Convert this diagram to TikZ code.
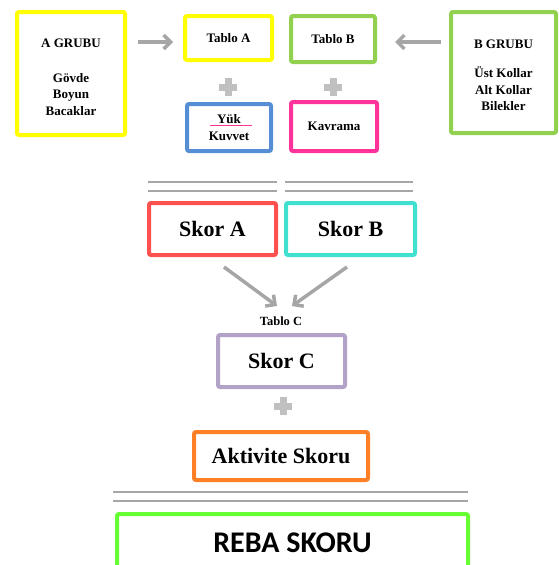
\documentclass[tikz,border=0pt]{standalone}
\usepackage{fontspec}
\setmainfont{Liberation Serif}
\newfontfamily\calib{Carlito}
\usetikzlibrary{arrows.meta}
\definecolor{cyel}{HTML}{FFFF00}
\definecolor{cgrn}{HTML}{92D050}
\definecolor{cblu}{HTML}{558ED5}
\definecolor{cpnk}{HTML}{FF3399}
\definecolor{cred}{HTML}{FF5050}
\definecolor{ctur}{HTML}{40E0D0}
\definecolor{cpur}{HTML}{B3A2C7}
\definecolor{corg}{HTML}{FF7F27}
\definecolor{clim}{HTML}{66FF33}
\definecolor{cgry}{HTML}{A6A6A6}
\definecolor{cplus}{HTML}{C0C0C0}
\tikzset{
  boxst/.style={draw, line width=4pt, rounded corners=2pt, inner sep=0pt, align=center, text=black},
  smallt/.style={font=\fontsize{13}{16.5}\selectfont\bfseries},
  bigt/.style={font=\fontsize{22}{26}\selectfont\bfseries},
  arr/.style={draw=cgry, line width=3.5pt, -{Straight Barb[length=7pt,width=14pt]}},
  dbl/.style={draw=cgry, line width=2.5pt},
  plusbar/.style={fill=cplus, draw=none}
}
\newcommand{\plusat}[2]{%
  \fill[plusbar] (#1-9,#2-3.5) rectangle (#1+9,#2+3.5);
  \fill[plusbar] (#1-3.5,#2-9) rectangle (#1+3.5,#2+9);}
\begin{document}
\begin{tikzpicture}[x=1pt,y=-1pt]
\useasboundingbox (0,0) rectangle (559,565);
% top row
\node[boxst, smallt, draw=cyel, minimum width=108pt, minimum height=123pt] (agrubu) at (71,73.5)
  {\rule{0pt}{16pt}A GRUBU\\[18pt]Gövde\\Boyun\\Bacaklar};
\node[boxst, smallt, draw=cyel, minimum width=87pt, minimum height=44pt] (tabloA) at (228.5,38) {Tablo A};
\node[boxst, smallt, draw=cblu, minimum width=84pt, minimum height=47pt] (yuk) at (229,127.5) {Yük\\Kuvvet};
\draw[cpnk, line width=1pt] (210,125) -- (252,125);
\node[boxst, smallt, draw=cgrn, minimum width=84pt, minimum height=46pt] (tabloB) at (333,39) {Tablo B};
\node[boxst, smallt, draw=cpnk, minimum width=86pt, minimum height=49pt] (kavrama) at (334,126.5) {Kavrama};
\node[boxst, smallt, draw=cgrn, minimum width=105pt, minimum height=121pt] (bgrubu) at (503.5,72.5)
  {\rule{0pt}{14pt}B GRUBU\\[13pt]Üst Kollar\\Alt Kollar\\Bilekler};
% arrows top
\draw[arr, shorten <=11pt, shorten >=10pt] ([yshift=-4pt]agrubu.east |- tabloA.west) -- ([yshift=-4pt]tabloA.west);
\draw[arr, shorten <=8pt, shorten >=18pt] ([yshift=-3pt]bgrubu.west |- tabloB.east) -- ([yshift=-3pt]tabloB.east);
\plusat{228}{87}
\plusat{333}{87}
% double lines
\draw[dbl] (148,182) -- (277,182);
\draw[dbl] (148,191) -- (277,191);
\draw[dbl] (285,182) -- (413,182);
\draw[dbl] (285,191) -- (413,191);
% scores
\node[boxst, bigt, draw=cred, minimum width=127pt, minimum height=52pt] (skorA) at (212.5,229) {Skor A};
\node[boxst, bigt, draw=ctur, minimum width=129pt, minimum height=52pt] (skorB) at (350.5,229) {Skor B};
\node[font=\fontsize{12.5}{14}\selectfont\bfseries] (tabloC) at (281,321) {Tablo C};
\coordinate (ca) at (277,306);
\coordinate (cb) at (292,306);
\draw[arr] ([xshift=11.5pt,yshift=-10pt]skorA.south) -- (ca);
\draw[arr] ([xshift=-3.5pt,yshift=-10pt]skorB.south) -- (cb);
\node[boxst, bigt, draw=cpur, minimum width=127pt, minimum height=52pt] (skorC) at (281.5,361) {Skor C};
\plusat{283}{406}
\node[boxst, bigt, draw=corg, minimum width=174pt, minimum height=48pt] (aktivite) at (281,456) {Aktivite Skoru};
\draw[dbl] (113,492) -- (468,492);
\draw[dbl] (113,501) -- (468,501);
\node[boxst, draw=clim, font=\fontsize{30}{32}\calib\bfseries, minimum width=351pt, minimum height=58pt] (reba) at (292.5,543) {REBA SKORU};
\end{tikzpicture}
\end{document}
